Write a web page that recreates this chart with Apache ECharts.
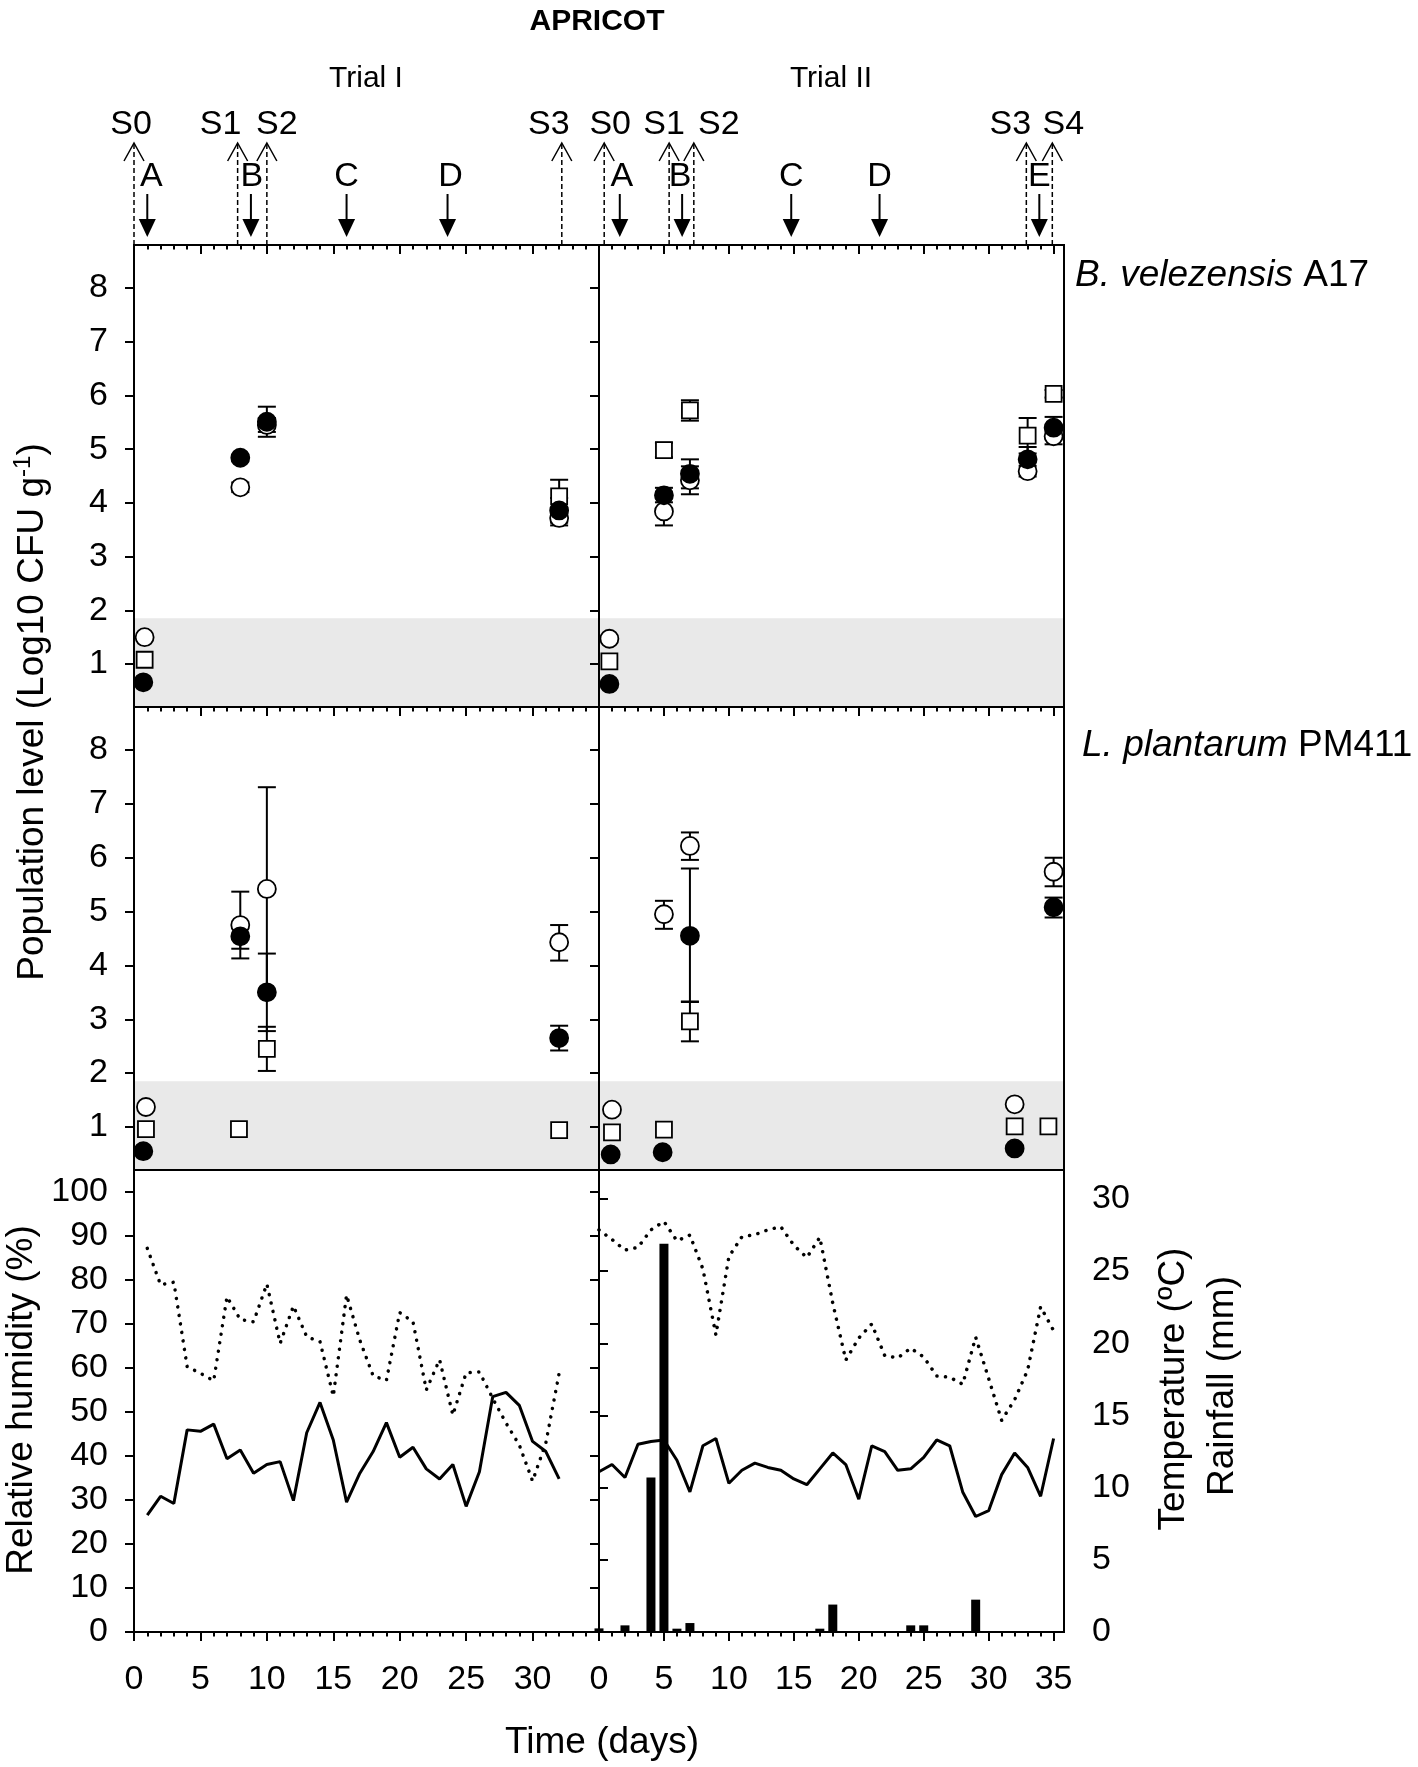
<!DOCTYPE html>
<html>
<head>
<meta charset="utf-8">
<title>Apricot</title>
<script src="https://cdn.jsdelivr.net/npm/echarts@6/dist/echarts.min.js"></script>
<style>
  html, body { margin: 0; padding: 0; background: #fff; }
  #chart { width: 1418px; height: 1767px; }
</style>
</head>
<body>
<div id="chart"></div>
<script>
'use strict';

// ---------- tick values ----------
var dayTicks = [0,1,2,3,4,5,6,7,8,9,10,11,12,13,14,15,16,17,18,19,20,21,22,23,24,25,26,27,28,29,30,31,32,33,34,35];
var dayMajor = [0,5,10,15,20,25,30,35];
var trial1DayLabels = [0,5,10,15,20,25,30];
var trial2DayLabels = [0,5,10,15,20,25,30,35];
var logTicks = [1,2,3,4,5,6,7,8];
var rhTicks = [0,10,20,30,40,50,60,70,80,90,100];
var tempTicks = [0,5,10,15,20,25,30];
var detectionLimit = 1.85;

// ---------- treatments (down arrows) and samplings (up arrows), day ----------
var trial1Sprays = [['A', 1], ['B', 8.8], ['C', 16], ['D', 23.6]];
var trial1Samples = [['S0', 0], ['S1', 7.8], ['S2', 10], ['S3', 32.2]];
var trial2Sprays = [['A', 1.6], ['B', 6.4], ['C', 14.8], ['D', 21.6], ['E', 33.9]];
var trial2Samples = [['S0', 0.4], ['S1', 5.4], ['S2', 7.3], ['S3', 32.9], ['S4', 34.9]];

// ---------- B. velezensis A17, [day, log10 CFU/g] ; errors [day, low, high] ----------
var bvT1Filled = [[0.7, 0.66], [8, 4.84], [10, 5.51], [32, 3.86]];
var bvT1Open = [[0.8, 1.50], [8, 4.29], [10, 5.45], [32, 3.72]];
var bvT1Square = [[0.8, 1.08], [32, 4.12]];
var bvT1Err = [[8, 4.20, 4.38], [10, 5.23, 5.79], [10, 5.32, 5.58], [32, 3.81, 4.43], [32, 3.63, 4.09], [32, 3.58, 3.86]];

var bvT2Filled = [[0.8, 0.63], [5, 4.14], [7, 4.54], [33, 4.81], [35, 5.40]];
var bvT2Open = [[0.8, 1.47], [5, 3.84], [7, 4.42], [33, 4.59], [35, 5.24]];
var bvT2Square = [[0.8, 1.05], [5, 4.98], [7, 5.72], [33, 5.25], [35, 6.03]];
var bvT2Err = [[5, 4.85, 5.12], [5, 4.01, 4.28], [5, 3.58, 4.10], [7, 5.53, 5.91], [7, 4.27, 4.81], [7, 4.16, 4.68],
  [33, 4.92, 5.58], [33, 4.58, 5.04], [33, 4.49, 4.69], [35, 5.96, 6.10], [35, 5.20, 5.60], [35, 5.09, 5.39]];

// ---------- L. plantarum PM411 ----------
var lpT1Filled = [[0.7, 0.55], [8, 4.54], [10, 3.50], [32, 2.65]];
var lpT1Open = [[0.9, 1.37], [8, 4.75], [10, 5.42], [32, 4.43]];
var lpT1Square = [[0.9, 0.96], [7.9, 0.96], [10, 2.45], [32, 0.94]];
var lpT1Err = [[8, 4.13, 5.37], [8, 4.31, 4.77], [10, 3.53, 7.31], [10, 2.78, 4.22], [10, 2.04, 2.86], [32, 4.09, 4.75], [32, 2.42, 2.88]];

var lpT2Filled = [[0.9, 0.49], [4.9, 0.53], [7, 4.55], [32, 0.60], [35, 5.08]];
var lpT2Open = [[1, 1.32], [5, 4.95], [7, 6.22], [32, 1.42], [35, 5.74]];
var lpT2Square = [[1, 0.90], [5, 0.95], [7, 2.96], [32, 1.01], [34.6, 1.01]];
var lpT2Err = [[5, 4.68, 5.20], [7, 5.96, 6.47], [7, 3.32, 5.80], [7, 2.59, 3.33], [35, 5.47, 6.00], [35, 4.89, 5.26]];

// ---------- weather ----------
var days1 = [1,2,3,4,5,6,7,8,9,10,11,12,13,14,15,16,17,18,19,20,21,22,23,24,25,26,27,28,29,30,31,32];
var rh1 = [87.2, 78.9, 79.5, 60.3, 58.8, 57.1, 76.2, 71.0, 70.5, 79.1, 65.6, 74.1, 67.1, 66.0, 53.6, 76.6,
  66.3, 58.2, 57.2, 72.6, 70.5, 55.0, 61.9, 49.3, 58.9, 59.1, 53.1, 47.5, 42.5, 34.3, 43.0, 58.8];
var temp1 = [8.1, 9.4, 8.9, 14.0, 13.9, 14.4, 12.0, 12.6, 11.0, 11.6, 11.8, 9.1, 13.8, 15.9, 13.3, 9.0,
  11.0, 12.5, 14.5, 12.1, 12.8, 11.3, 10.6, 11.6, 8.7, 11.1, 16.3, 16.6, 15.7, 13.2, 12.5, 10.6];

var days2 = [0,1,2,3,4,5,6,7,8,9,10,11,12,13,14,15,16,17,18,19,20,21,22,23,24,25,26,27,28,29,30,31,32,33,34,35];
var rh2 = [91.4, 89.2, 86.8, 87.4, 91.4, 93.3, 88.9, 90.2, 82.5, 67.5, 85.3, 89.8, 90.3, 91.4, 92.1, 87.9,
  85.1, 89.7, 74.7, 61.8, 66.8, 70.0, 62.8, 62.3, 64.5, 62.5, 58.2, 57.9, 56.3, 67.0, 57.6, 48.1, 52.8, 59.5, 73.9, 68.5];
var temp2 = [11.1, 11.6, 10.7, 13.0, 13.2, 13.3, 11.9, 9.7, 12.9, 13.4, 10.3, 11.2, 11.7, 11.4, 11.2, 10.6,
  10.2, 11.3, 12.4, 11.6, 9.2, 12.9, 12.5, 11.2, 11.3, 12.1, 13.3, 12.9, 9.7, 8.0, 8.4, 10.9, 12.4, 11.4, 9.4, 13.4];
var rainDays2 = [0, 2, 4, 5, 6, 7, 17, 18, 24, 25, 29];
var rain2 = [0.25, 0.46, 10.7, 26.9, 0.23, 0.62, 0.23, 1.9, 0.46, 0.46, 2.24];

// ---------- layout ----------
var FONT = "'Liberation Sans', Arial, Helvetica, sans-serif";
var L1 = 134, L2 = 599, W = 465;
var MAX1 = 35, MAX2 = 35.8;

var grids = [], xAxes = [], yAxes = [], series = [];
function addGrid(g) { grids.push(g); return grids.length - 1; }
function addX(a) { xAxes.push(a); return xAxes.length - 1; }
function addY(a) { yAxes.push(a); return yAxes.length - 1; }
function pairs(xs, ys) { return xs.map(function (x, i) { return [x, ys[i]]; }); }

function panelGrid(left, top, height) {
    return addGrid({left: left, top: top, width: W, height: height, show: true,
        backgroundColor: 'transparent', borderColor: '#000', borderWidth: 2, z: 10});
}

function xTicks(gi, max, pos, ticks, len, inside) {
    return {
        type: 'value', gridIndex: gi, min: 0, max: max, position: pos,
        axisLine: {show: false},
        axisTick: {show: true, inside: inside, length: len, customValues: ticks, lineStyle: {color: '#000', width: 2}},
        axisLabel: {show: false},
        splitLine: {show: false},
        z: 10
    };
}

function yTicks(gi, min, max, pos, ticks, showTicks, labels, margin) {
    return {
        type: 'value', gridIndex: gi, min: min, max: max, position: pos,
        axisLine: {show: false},
        axisTick: {show: showTicks, inside: false, length: 9, customValues: ticks, lineStyle: {color: '#000', width: 2}},
        axisLabel: {show: labels, customValues: ticks, margin: margin, fontSize: 34, color: '#000', fontFamily: FONT},
        splitLine: {show: false},
        z: 10
    };
}

function errorBar(params, api) {
    var x = api.value(0);
    var lo = api.coord([x, api.value(1)]);
    var hi = api.coord([x, api.value(2)]);
    var w = 9, st = {stroke: '#000', lineWidth: 2};
    return {type: 'group', children: [
        {type: 'line', shape: {x1: lo[0], y1: lo[1], x2: hi[0], y2: hi[1]}, style: st},
        {type: 'line', shape: {x1: lo[0] - w, y1: lo[1], x2: lo[0] + w, y2: lo[1]}, style: st},
        {type: 'line', shape: {x1: hi[0] - w, y1: hi[1], x2: hi[0] + w, y2: hi[1]}, style: st}
    ]};
}

function dots(xi, yi, data, symbol, size, fill, z) {
    return {type: 'scatter', xAxisIndex: xi, yAxisIndex: yi, data: data, symbol: symbol, symbolSize: size,
        itemStyle: {color: fill, borderColor: '#000', borderWidth: 1.8, opacity: 1}, z: z, silent: true};
}

function popPanel(left, top, height, max, labels, filled, open, square, errs) {
    var gi = panelGrid(left, top, height);
    var xi = addX(xTicks(gi, max, 'top', dayMajor, 9, true));
    addX(xTicks(gi, max, 'top', dayTicks, 4.5, true));
    var yi = addY(yTicks(gi, 0.2, 8.8, 'left', logTicks, true, labels, 26));
    series.push({type: 'custom', xAxisIndex: xi, yAxisIndex: yi, data: errs, renderItem: errorBar,
        encode: {x: 0, y: [1, 2]}, z: 2, silent: true});
    var sq = dots(xi, yi, square, 'rect', 16, '#fff', 3);
    sq.markArea = {silent: true, itemStyle: {color: '#e9e9e9'},
        data: [[{xAxis: 0, yAxis: 0.2}, {xAxis: max, yAxis: detectionLimit}]]};
    series.push(sq);
    series.push(dots(xi, yi, open, 'circle', 18, '#fff', 4));
    series.push(dots(xi, yi, filled, 'circle', 18, '#000', 5));
}

function weatherPanel(left, max, first, days, rh, temp, rainDays, rain, bottomLabels) {
    var gi = panelGrid(left, 1170, 462);
    var xi = addX(xTicks(gi, max, 'top', dayMajor, 9, true));
    addX(xTicks(gi, max, 'top', dayTicks, 4.5, true));
    addX(xTicks(gi, max, 'bottom', dayTicks, 4.5, false));
    var xb = xTicks(gi, max, 'bottom', dayMajor, 8, false);
    xb.axisLabel = {show: true, customValues: bottomLabels, margin: 31, fontSize: 34, color: '#000', fontFamily: FONT};
    addX(xb);
    var yRh = addY(yTicks(gi, 0, 105, 'left', rhTicks, true, first, 26));
    var yT = addY(yTicks(gi, 0, 32, 'right', tempTicks, !first, !first, 28));
    if (rain) {
        series.push({type: 'bar', xAxisIndex: xi, yAxisIndex: yT, data: pairs(rainDays, rain),
            barWidth: 9, itemStyle: {color: '#000'}, z: 2, silent: true});
    }
    series.push({type: 'line', xAxisIndex: xi, yAxisIndex: yRh, data: pairs(days, rh), symbol: 'none',
        lineStyle: {color: '#000', width: 3.5, type: [0.1, 8.5], cap: 'round'}, z: 3, silent: true});
    series.push({type: 'line', xAxisIndex: xi, yAxisIndex: yT, data: pairs(days, temp), symbol: 'none',
        lineStyle: {color: '#000', width: 3}, z: 4, silent: true});
}

function sampleArrow(list, shift) {
    return function (params, api) {
        var p = api.coord([api.value(0), 0]);
        var x = p[0], base = p[1], tip = base - 102, wing = base - 84;
        return {type: 'group', children: [
            {type: 'line', shape: {x1: x, y1: base, x2: x, y2: tip}, style: {stroke: '#000', lineWidth: 1.5, lineDash: [5, 3]}},
            {type: 'polyline', shape: {points: [[x - 10, wing], [x, tip], [x + 10, wing]]}, style: {stroke: '#000', lineWidth: 1.5, fill: null}},
            {type: 'text', style: {text: list[params.dataIndex][0], x: x + shift[params.dataIndex], y: base - 120,
                align: 'center', verticalAlign: 'middle', fontSize: 34, fontFamily: FONT, fill: '#000'}}
        ]};
    };
}

function sprayArrow(list, shift) {
    return function (params, api) {
        var p = api.coord([api.value(0), 0]);
        var x = p[0], base = p[1];
        return {type: 'group', children: [
            {type: 'line', shape: {x1: x, y1: base - 51, x2: x, y2: base - 24}, style: {stroke: '#000', lineWidth: 2}},
            {type: 'polygon', shape: {points: [[x - 8.5, base - 26], [x + 8.5, base - 26], [x, base - 8]]}, style: {fill: '#000'}},
            {type: 'text', style: {text: list[params.dataIndex][0], x: x + shift[params.dataIndex], y: base - 68,
                align: 'center', verticalAlign: 'middle', fontSize: 34, fontFamily: FONT, fill: '#000'}}
        ]};
    };
}

function annotations(left, max, sprays, sprayShift, samples, sampleShift) {
    var gi = addGrid({left: left, top: 95, width: W, height: 150, show: false});
    var xi = addX({type: 'value', gridIndex: gi, min: 0, max: max, show: false});
    var yi = addY({type: 'value', gridIndex: gi, min: 0, max: 1, show: false});
    series.push({type: 'custom', xAxisIndex: xi, yAxisIndex: yi, silent: true,
        data: samples.map(function (s) { return [s[1], 0]; }), renderItem: sampleArrow(samples, sampleShift)});
    series.push({type: 'custom', xAxisIndex: xi, yAxisIndex: yi, silent: true,
        data: sprays.map(function (s) { return [s[1], 0]; }), renderItem: sprayArrow(sprays, sprayShift)});
}

popPanel(L1, 245, 462, MAX1, true, bvT1Filled, bvT1Open, bvT1Square, bvT1Err);
popPanel(L2, 245, 462, MAX2, false, bvT2Filled, bvT2Open, bvT2Square, bvT2Err);
popPanel(L1, 707, 463, MAX1, true, lpT1Filled, lpT1Open, lpT1Square, lpT1Err);
popPanel(L2, 707, 463, MAX2, false, lpT2Filled, lpT2Open, lpT2Square, lpT2Err);
weatherPanel(L1, MAX1, true, days1, rh1, temp1, null, null, trial1DayLabels);
weatherPanel(L2, MAX2, false, days2, rh2, temp2, rainDays2, rain2, trial2DayLabels);
annotations(L1, MAX1, trial1Sprays, [4, 1, 0, 3], trial1Samples, [-3, -17, 10, -13]);
annotations(L2, MAX2, trial2Sprays, [2, -2, 0, 0, 0], trial2Samples, [6, -5, 25, -16, 11]);

var txt = {fontSize: 36, fontFamily: FONT, fill: '#000', align: 'center', verticalAlign: 'middle'};
function label(x, y, style, rotation) {
    return {type: 'text', x: x, y: y, rotation: rotation || 0, silent: true, style: Object.assign({}, txt, style)};
}

var graphics = [
    label(597, 22, {text: 'APRICOT', fontSize: 30, fontWeight: 'bold'}),
    label(366, 79, {text: 'Trial I', fontSize: 30}),
    label(831, 79, {text: 'Trial II', fontSize: 30}),
    label(1075, 276, {align: 'left', text: '{i|B. velezensis} A17', fontSize: 37,
        rich: {i: {fontStyle: 'italic', fontSize: 37, fontFamily: FONT}}}),
    label(1082, 746, {align: 'left', text: '{i|L. plantarum} PM411', fontSize: 37,
        rich: {i: {fontStyle: 'italic', fontSize: 37, fontFamily: FONT}}}),
    label(33, 712, {text: '{a|Population level (Log10 CFU g}{s|-1}{a|)}',
        rich: {a: {fontSize: 37, lineHeight: 44, fontFamily: FONT}, s: {fontSize: 24, lineHeight: 26, verticalAlign: 'top', fontFamily: FONT}}}, Math.PI / 2),
    label(22, 1400, {text: 'Relative humidity (%)', fontSize: 37}, Math.PI / 2),
    label(1174, 1389, {text: 'Temperature (ºC)', fontSize: 37}, Math.PI / 2),
    label(1223, 1386, {text: 'Rainfall (mm)', fontSize: 37}, Math.PI / 2),
    label(602, 1743, {text: 'Time (days)', fontSize: 37})
];

var chart = echarts.init(document.getElementById('chart'));
chart.setOption({
    backgroundColor: '#fff',
    animation: false,
    grid: grids,
    xAxis: xAxes,
    yAxis: yAxes,
    series: series,
    graphic: graphics
});
</script>
</body>
</html>
